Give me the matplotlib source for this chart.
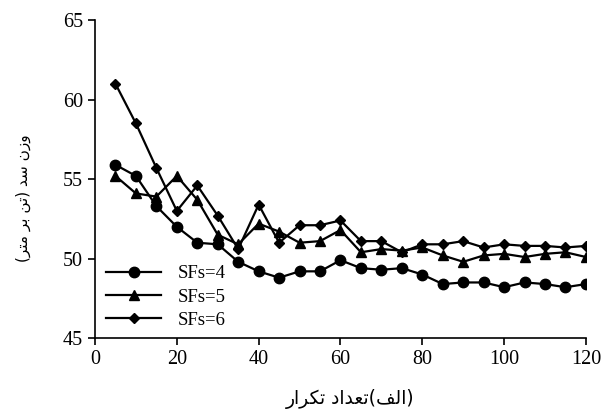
import matplotlib
matplotlib.use("Agg")
import matplotlib.pyplot as plt

# iterations (thousands)
iters = [5, 10, 15, 20, 25, 30, 35, 40, 45, 50, 55, 60,
         65, 70, 75, 80, 85, 90, 95, 100, 105, 110, 115, 120]

sf4 = [55.9, 55.2, 53.3, 52.0, 51.0, 50.9, 49.8, 49.2, 48.8, 49.2, 49.2, 49.9,
       49.4, 49.3, 49.4, 49.0, 48.4, 48.5, 48.5, 48.2, 48.5, 48.4, 48.2, 48.4]
sf5 = [55.2, 54.1, 53.9, 55.2, 53.7, 51.5, 50.9, 52.2, 51.7, 51.0, 51.1, 51.8,
       50.4, 50.6, 50.5, 50.7, 50.2, 49.8, 50.2, 50.3, 50.1, 50.3, 50.4, 50.1]
sf6 = [61.0, 58.5, 55.7, 53.0, 54.6, 52.7, 50.6, 53.4, 51.0, 52.1, 52.1, 52.4,
       51.1, 51.1, 50.4, 50.9, 50.9, 51.1, 50.7, 50.9, 50.8, 50.8, 50.7, 50.8]

series_labels = ["SFs=4", "SFs=5", "SFs=6"]
x_ticks = [0, 20, 40, 60, 80, 100, 120]
y_ticks = [45, 50, 55, 60, 65]

# Persian labels, already shaped and in visual (left-to-right) order
# logical: "(الف) تعداد تکرار"
xlabel = ("\uFEAD\uFE8D\uFEAE\uFB91\uFE97" + " "
          + "\uFEA9\uFE8D\uFEAA\uFECC\uFE97"
          + "(\uFED2\uFEDF\uFE8D)")
# logical: "وزن سد (تن بر متر)"
ylabel = ("(\uFEAE\uFE98\uFEE3 \uFEAE\uFE91 \uFEE6\uFE97)"
          + " \uFEAA\uFEB3 \uFEE5\uFEAF\uFEED")

plt.rcParams['font.family'] = ['Liberation Serif', 'DejaVu Sans']

fig = plt.figure(figsize=(6.11, 4.20), dpi=100)
ax = fig.add_axes([0.1555, 0.195, 0.8035, 0.757])

ax.plot(iters, sf4, color='black', lw=1.6, marker='o', ms=7.5, label=series_labels[0])
ax.plot(iters, sf5, color='black', lw=1.6, marker='^', ms=7, label=series_labels[1])
ax.plot(iters, sf6, color='black', lw=1.6, marker='D', ms=5.5, label=series_labels[2])

ax.set_xlim(0, 120)
ax.set_ylim(45, 65)
ax.set_xticks(x_ticks)
ax.set_yticks(y_ticks)
ax.tick_params(labelsize=14.5, direction='out', length=5, width=1.2, colors='black')

for s in ['top', 'right']:
    ax.spines[s].set_visible(False)
for s in ['left', 'bottom']:
    ax.spines[s].set_linewidth(1.2)

ax.set_xlabel(xlabel, family='DejaVu Sans', fontsize=13.5)
ax.xaxis.set_label_coords(0.52, -0.16)
ax.set_ylabel(ylabel, family='DejaVu Sans', fontsize=11)
ax.yaxis.set_label_coords(-0.131, 0.44)

leg = ax.legend(loc='lower left', bbox_to_anchor=(-0.011, -0.024), frameon=False,
                fontsize=13.5, handlelength=2.9, labelspacing=0.33,
                handletextpad=0.9)

fig.savefig("out.png", dpi=100)
